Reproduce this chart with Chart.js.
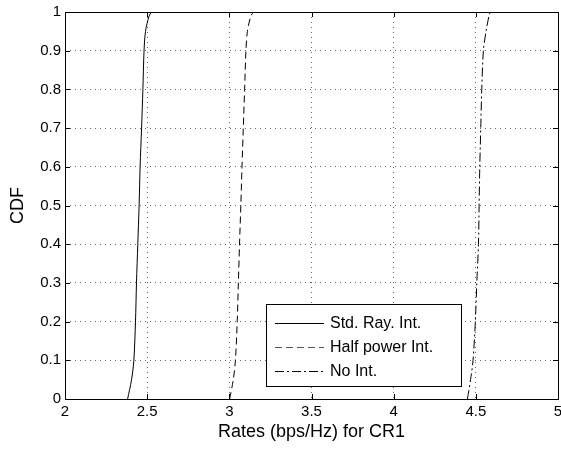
<!DOCTYPE html>
<html>
<head>
<meta charset="utf-8">
<script src="https://cdn.jsdelivr.net/npm/chart.js@4"></script>
<style>
html,body{margin:0;padding:0;background:#fff;}
#wrap{width:561px;height:450px;}
</style>
</head>
<body>
<div id="wrap"><canvas id="cdfChart" width="561" height="450"></canvas></div>
<script>
// CDF levels shared by all three curves
let cdfLevels = [0, 0.05, 0.1, 0.2, 0.3, 0.4, 0.5, 0.6, 0.7, 0.8, 0.9, 0.95, 0.99, 1];

// rates (bps/Hz) at each CDF level
let stdRayRates = [2.381, 2.405, 2.419, 2.429, 2.435, 2.443, 2.451, 2.457, 2.466, 2.474, 2.481, 2.490, 2.512, 2.526];
let halfPowerRates = [3.002, 3.024, 3.037, 3.048, 3.055, 3.062, 3.070, 3.077, 3.085, 3.093, 3.101, 3.110, 3.131, 3.148];
let noIntRates = [4.449, 4.468, 4.483, 4.497, 4.506, 4.516, 4.520, 4.524, 4.530, 4.536, 4.546, 4.562, 4.580, 4.588];

let seriesNames = ["Std. Ray. Int.", "Half power Int.", "No Int."];

let xTicksMin = 2, xTicksMax = 5, xStep = 0.5;
let yTicksMin = 0, yTicksMax = 1, yStep = 0.1;

const fontFam = "'Liberation Sans', Arial, sans-serif";

function toPoints(rates){
  return rates.map((r,i) => ({x:r, y:cdfLevels[i]}));
}

function plainNum(v){
  return String(Math.round(v*10)/10);
}

// box, inner tick marks and legend drawn the matlab way
const matlabFrame = {
  id:"matlabFrame",
  afterDatasetsDraw(chart){
    const ctx = chart.ctx;
    const a = chart.chartArea;
    const xs = chart.scales.x, ys = chart.scales.y;
    ctx.save();
    ctx.strokeStyle = "#000";
    ctx.lineWidth = 1;
    ctx.setLineDash([]);
    ctx.beginPath();
    xs.ticks.forEach(t => {
      let px = Math.round(xs.getPixelForValue(t.value)) + 0.5;
      ctx.moveTo(px, a.bottom); ctx.lineTo(px, a.bottom - 5);
      ctx.moveTo(px, a.top); ctx.lineTo(px, a.top + 5);
    });
    ys.ticks.forEach(t => {
      let py = Math.round(ys.getPixelForValue(t.value)) + 0.5;
      ctx.moveTo(a.left, py); ctx.lineTo(a.left + 5, py);
      ctx.moveTo(a.right, py); ctx.lineTo(a.right - 5, py);
    });
    ctx.stroke();
    ctx.strokeRect(Math.round(a.left)+0.5, Math.round(a.top)+0.5, Math.round(a.right-a.left), Math.round(a.bottom-a.top));

    // legend
    let lx = 266, ly = 304, lw = 195, lh = 82;
    ctx.fillStyle = "#fff";
    ctx.fillRect(lx, ly, lw, lh);
    ctx.strokeRect(lx+0.5, ly+0.5, lw, lh);
    ctx.font = "16px " + fontFam;
    ctx.textBaseline = "middle";
    chart.data.datasets.forEach((ds,i) => {
      let yy = ly + 19 + i*24;
      ctx.strokeStyle = i === 1 ? "#555" : "#000";
      ctx.setLineDash(ds.borderDash || []);
      ctx.beginPath();
      ctx.moveTo(lx + 9, yy + 0.5);
      ctx.lineTo(lx + 58, yy + 0.5);
      ctx.stroke();
      ctx.fillStyle = "#000";
      ctx.fillText(ds.label, lx + 64, yy + 1);
    });
    ctx.restore();
  }
};

const ctx = document.getElementById("cdfChart").getContext("2d");

new Chart(ctx,{
  type:"line",
  data:{
    datasets:[
      {label:seriesNames[0], data:toPoints(stdRayRates), borderColor:"#000", borderWidth:1, borderDash:[], pointRadius:0, fill:false, tension:0.3},
      {label:seriesNames[1], data:toPoints(halfPowerRates), borderColor:"#000", borderWidth:1, borderDash:[7,4], pointRadius:0, fill:false, tension:0.3},
      {label:seriesNames[2], data:toPoints(noIntRates), borderColor:"#000", borderWidth:1, borderDash:[9,3,2,3], pointRadius:0, fill:false, tension:0.3}
    ]
  },
  options:{
    responsive:false,
    animation:false,
    layout:{padding:{left:0, right:3, top:12, bottom:0}},
    plugins:{legend:{display:false}, tooltip:{enabled:false}},
    scales:{
      x:{
        type:"linear",
        min:xTicksMin, max:xTicksMax,
        ticks:{stepSize:xStep, color:"#000", padding:4, maxRotation:0, callback:v => plainNum(v), font:{family:fontFam, size:15}},
        grid:{color:"rgba(0,0,0,0.6)", drawTicks:false, lineWidth:1},
        border:{display:false, dash:[1,4]},
        title:{display:true, text:"Rates (bps/Hz) for CR1", color:"#000", padding:{top:0, bottom:7}, font:{family:fontFam, size:18}},
        afterFit(scale){ scale.height = 51; scale.paddingLeft = 0; scale.paddingRight = 0; }
      },
      y:{
        type:"linear",
        min:yTicksMin, max:yTicksMax,
        ticks:{stepSize:yStep, color:"#000", padding:4, callback:v => plainNum(v), font:{family:fontFam, size:15}},
        grid:{color:"rgba(0,0,0,0.6)", drawTicks:false, lineWidth:1},
        border:{display:false, dash:[1,4]},
        title:{display:true, text:"CDF", color:"#000", padding:{top:7, bottom:0}, font:{family:fontFam, size:18}},
        afterFit(scale){ scale.width = 65; scale.paddingTop = 0; scale.paddingBottom = 0; }
      }
    }
  },
  plugins:[matlabFrame]
});
</script>
</body>
</html>
